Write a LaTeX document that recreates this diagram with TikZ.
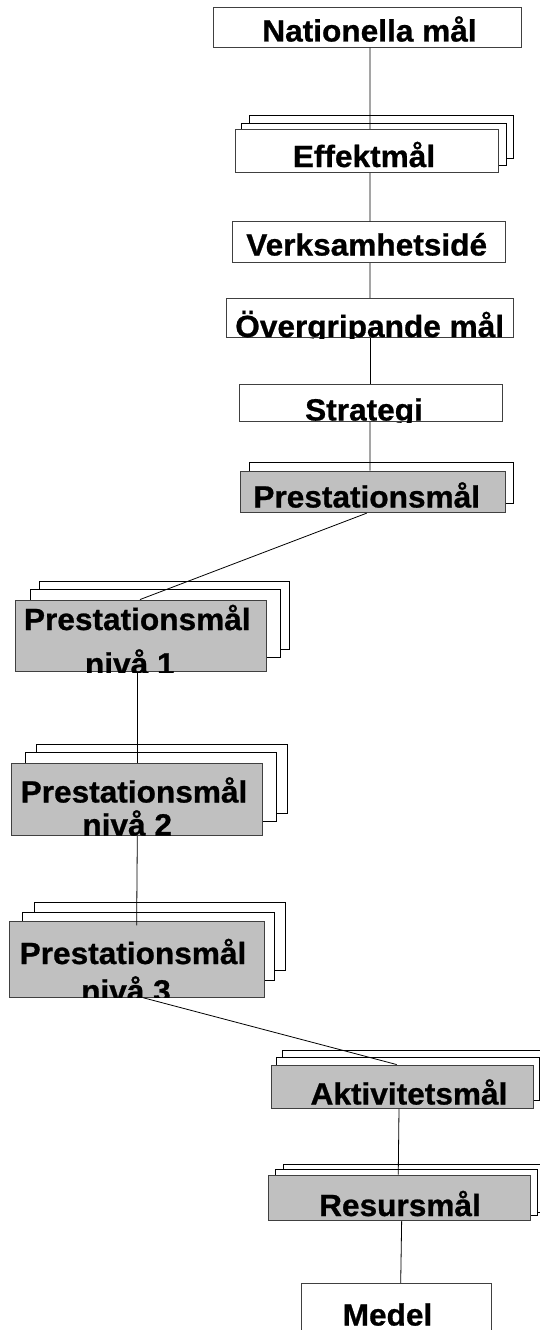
\documentclass[tikz,border=0pt]{standalone}
\usepackage{fontspec}
\setmainfont{Liberation Sans}[FakeStretch=1.03, BoldFeatures={FakeBold=0.8}]
\usetikzlibrary{fit}
\definecolor{boxgray}{HTML}{C0C0C0}
\definecolor{edge}{HTML}{404040}
\newcommand\lblfont{\fontsize{30.7}{36}\selectfont\bfseries}
% label clipped to the box it belongs to: box, name, x, baseline y, text
\newcommand\boxtext[5]{%
  \begin{scope}
    \clip (#1.south west) rectangle (#1.north east);
    \node[lbl] (#2) at (#3,#4) {#5};
  \end{scope}}
\tikzset{
  layer/.style={draw=black, fill=white, line width=0.8pt},
  front/.style={draw=edge, inner sep=0pt, line width=0.9pt},
  plainbox/.style={front, fill=white},
  graybox/.style={front, fill=boxgray},
  link/.style={draw=black, line width=0.8pt},
  lbl/.style={anchor=base, inner sep=0pt, font=\lblfont},
}
\begin{document}
\begin{tikzpicture}[x=1pt, y=-1pt]
\useasboundingbox (0,0) rectangle (540,1330);
\clip (0,0) rectangle (540,1330);

% stacked copies behind the front boxes
\draw[layer] (249.3,115.3) rectangle (513.3,158.7);
\draw[layer] (241,123.3) rectangle (506,165.7);
\draw[layer] (249,462.7) rectangle (513.3,503.3);
\draw[layer] (39,581) rectangle (289.3,649.3);
\draw[layer] (30,589.3) rectangle (280,657.3);
\draw[layer] (36,744) rectangle (287.3,813.3);
\draw[layer] (25,752.7) rectangle (276,821.7);
\draw[layer] (34.3,902.7) rectangle (285,970.7);
\draw[layer] (22.7,912.7) rectangle (274,980);
\draw[layer] (282.3,1050.7) rectangle (560,1093.5);
\draw[layer] (276,1057.7) rectangle (539.3,1100.7);
\draw[layer] (283.3,1164) rectangle (560,1212.7);
\draw[layer] (275,1169.3) rectangle (537.3,1215);

% front boxes
\node[plainbox, fit={(213.3,7.3) (521.7,47.3)}] (nat) {};
\node[plainbox, fit={(235,129.3) (498.3,172.3)}] (eff) {};
\node[plainbox, fit={(232.7,221.7) (505,262.7)}] (ver) {};
\node[plainbox, fit={(226,298.3) (513.3,337.7)}] (ovr) {};
\node[plainbox, fit={(239,384.3) (502.3,421.7)}] (str) {};
\node[graybox, fit={(240.7,471) (505.7,512.7)}] (pm) {};
\node[graybox, fit={(15.7,600) (266.7,671.7)}] (pm1) {};
\node[graybox, fit={(11.7,763.3) (262.3,835.5)}] (pm2) {};
\node[graybox, fit={(9.3,921.7) (264,997.3)}] (pm3) {};
\node[graybox, fit={(271.7,1065) (533.3,1108.3)}] (akt) {};
\node[graybox, fit={(268.3,1175) (530,1220.7)}] (res) {};
\node[plainbox, fit={(301.7,1283.3) (491.7,1345)}] (med) {};

% labels
\boxtext{nat}{nat-t}{369.5}{41.5}{Nationella mål}
\boxtext{eff}{eff-t}{364}{167}{Effektmål}
\boxtext{ver}{ver-t}{366.7}{255.5}{Verksamhetsidé}
\boxtext{ovr}{ovr-t}{369.7}{337}{Övergripande mål}
\boxtext{str}{str-t}{364}{420.5}{Strategi}
\boxtext{pm}{pm-t}{366.7}{507.5}{Prestationsmål}
\boxtext{pm1}{pm1-a}{137.3}{630}{Prestationsmål}
\boxtext{pm1}{pm1-b}{129.8}{674.5}{nivå 1}
\boxtext{pm2}{pm2-a}{134}{802.5}{Prestationsmål}
\boxtext{pm2}{pm2-b}{127.2}{835.5}{nivå 2}
\boxtext{pm3}{pm3-a}{133}{964}{Prestationsmål}
\boxtext{pm3}{pm3-b}{126}{1001.5}{nivå 3}
\boxtext{akt}{akt-t}{409}{1104.5}{Aktivitetsmål}
\boxtext{res}{res-t}{400}{1216}{Resursmål}
\boxtext{med}{med-t}{387.5}{1325.5}{Medel}

% connectors
\draw[link] ([xshift=2.5pt]nat.south) -- ([xshift=3.3pt]eff.north);
\draw[link] ([xshift=3.3pt]eff.south) -- ([xshift=1.2pt]ver.north);
\draw[link] ([xshift=1.2pt]ver.south) -- ([xshift=0.3pt]ovr.north);
\draw[link] ([xshift=0.3pt]ovr.south) -- ([xshift=-0.7pt]str.north);
\draw[link] ([xshift=-0.7pt]str.south) -- ([xshift=-3.2pt]pm.north);
\draw[link] ([xshift=-6.5pt]pm.south) -- ([xshift=-1.2pt]pm1.north);
\draw[link] ([xshift=-3.9pt]pm1.south) -- ([xshift=0.3pt]pm2.north);
\draw[link] ([xshift=0.3pt]pm2.south) -- ([xshift=0pt,yshift=-4pt]pm3.north);
\draw[link] ([xshift=6.6pt]pm3.south) -- ([xshift=-5.8pt]akt.north);
\draw[link] ([xshift=-3.5pt]akt.south) -- ([xshift=-0.9pt]res.north);
\draw[link] ([xshift=2.5pt]res.south) -- ([xshift=4pt]med.north);
\end{tikzpicture}
\end{document}
